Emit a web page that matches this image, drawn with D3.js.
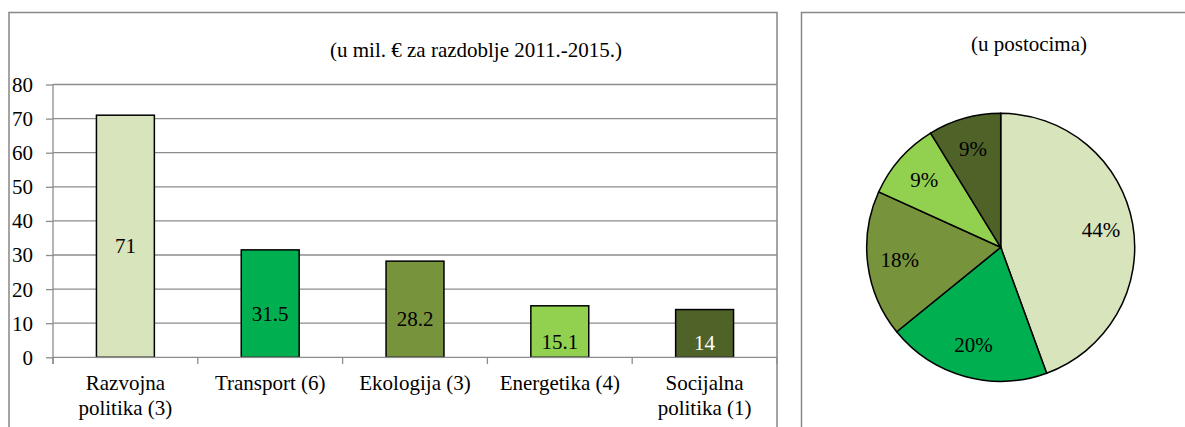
<!DOCTYPE html>
<html>
<head>
<meta charset="utf-8">
<script src="https://d3js.org/d3.v7.min.js"></script>
</head>
<body style="margin:0; background:#fff">
<div id="chart"></div>
<script>
// data
var categories = [["Razvojna", "politika (3)"], ["Transport (6)"], ["Ekologija (3)"], ["Energetika (4)"], ["Socijalna", "politika (1)"]];
var values = [71, 31.5, 28.2, 15.1, 14];
var colors = ["#D8E4BC", "#00B050", "#77933C", "#92D050", "#4F6228"];
var labelColors = ["#000", "#000", "#000", "#000", "#fff"];
var yTicks = [0, 10, 20, 30, 40, 50, 60, 70, 80];
var pieLabels = ["44%", "20%", "18%", "9%", "9%"];

var FONT = "Liberation Serif";
var W = 1185, H = 427;
var svg = d3.select("#chart").append("svg").attr("width", W).attr("height", H)
  .style("display", "block").style("font-family", FONT);

// frames
svg.append("rect").attr("x", 9).attr("y", 12.5).attr("width", 768).attr("height", 430)
  .attr("fill", "none").attr("stroke", "#878787").attr("stroke-width", 1.5);
svg.append("rect").attr("x", 801.5).attr("y", 12.5).attr("width", 400).attr("height", 430)
  .attr("fill", "none").attr("stroke", "#878787").attr("stroke-width", 1.5);

// ---- bar chart ----
var x = d3.scaleBand().domain(d3.range(values.length)).range([53, 777]).paddingInner(0).paddingOuter(0);
var y = d3.scaleLinear().domain([0, 80]).range([357.3, 84.5]);

svg.append("text").attr("x", 476).attr("y", 57).attr("text-anchor", "middle")
  .style("font-family", FONT).attr("font-size", 21).text("(u mil. € za razdoblje 2011.-2015.)");

// gridlines
svg.append("g").selectAll("line").data(yTicks.filter(function(d){ return d > 0; })).enter()
  .append("line")
  .attr("x1", 53).attr("x2", 777)
  .attr("y1", function(d){ return y(d); }).attr("y2", function(d){ return y(d); })
  .attr("stroke", "#8c8c8c").attr("stroke-width", 1.3);

// y axis
var yAxis = svg.append("g").attr("transform", "translate(53,0)")
  .call(d3.axisLeft(y).tickValues(yTicks).tickSize(7).tickPadding(13));
yAxis.select(".domain").remove();
yAxis.selectAll("line").attr("stroke", "#8c8c8c").attr("stroke-width", 1.3);
yAxis.selectAll("text").attr("font-size", 21).style("font-family", FONT)
  .attr("fill", "#000").attr("dy", "0.33em");
svg.append("line").attr("x1", 53).attr("x2", 53).attr("y1", y(80)).attr("y2", 364)
  .attr("stroke", "#8c8c8c").attr("stroke-width", 1.3);

// bars
var bw = x.bandwidth() * 0.4;
svg.append("g").selectAll("rect").data(values).enter().append("rect")
  .attr("x", function(d, i){ return x(i) + x.bandwidth() / 2 - bw / 2; })
  .attr("y", function(d){ return y(d); })
  .attr("width", bw)
  .attr("height", function(d){ return y(0) - y(d); })
  .attr("fill", function(d, i){ return colors[i]; })
  .attr("stroke", "#000").attr("stroke-width", 1.5);

// x axis
svg.append("line").attr("x1", 53).attr("x2", 777).attr("y1", y(0)).attr("y2", y(0))
  .attr("stroke", "#8c8c8c").attr("stroke-width", 1.3);
svg.append("g").selectAll("line").data(d3.range(values.length + 1)).enter().append("line")
  .attr("x1", function(i){ return 53 + i * x.step(); })
  .attr("x2", function(i){ return 53 + i * x.step(); })
  .attr("y1", y(0)).attr("y2", 364)
  .attr("stroke", "#8c8c8c").attr("stroke-width", 1.3);

// bar labels
svg.append("g").selectAll("text").data(values).enter().append("text")
  .attr("x", function(d, i){ return x(i) + x.bandwidth() / 2; })
  .attr("y", function(d){ return y(d / 2) + 17; })
  .attr("text-anchor", "middle").attr("font-size", 21).style("font-family", FONT)
  .attr("fill", function(d, i){ return labelColors[i]; })
  .text(function(d){ return d; });

// category labels
var cat = svg.append("g").selectAll("text").data(categories).enter().append("text")
  .attr("text-anchor", "middle").attr("font-size", 21).style("font-family", FONT);
cat.selectAll("tspan").data(function(d, i){ return d.map(function(t){ return {t: t, i: i}; }); })
  .enter().append("tspan")
  .attr("x", function(d){ return x(d.i) + x.bandwidth() / 2; })
  .attr("y", function(d, j){ return 390 + j * 24.5; })
  .text(function(d){ return d.t; });

// ---- pie chart ----
var cx = 1000.7, cy = 247.3, r = 134;
svg.append("text").attr("x", 1029).attr("y", 51).attr("text-anchor", "middle")
  .style("font-family", FONT).attr("font-size", 21).text("(u postocima)");

var pie = d3.pie().sort(null).value(function(d){ return d; });
var arc = d3.arc().innerRadius(0).outerRadius(r);
var labelArc = d3.arc().innerRadius(r * 0.76).outerRadius(r * 0.76);
var pg = svg.append("g").attr("transform", "translate(" + cx + "," + cy + ")");
var arcs = pie(values);
pg.selectAll("path").data(arcs).enter().append("path")
  .attr("d", arc)
  .attr("fill", function(d, i){ return colors[i]; })
  .attr("stroke", "#000").attr("stroke-width", 1.5);
pg.selectAll("text").data(arcs).enter().append("text")
  .attr("transform", function(d){ return "translate(" + labelArc.centroid(d) + ")"; })
  .attr("text-anchor", "middle").attr("dy", "0.33em")
  .attr("font-size", 21).style("font-family", FONT)
  .text(function(d, i){ return pieLabels[i]; });
</script>
</body>
</html>
